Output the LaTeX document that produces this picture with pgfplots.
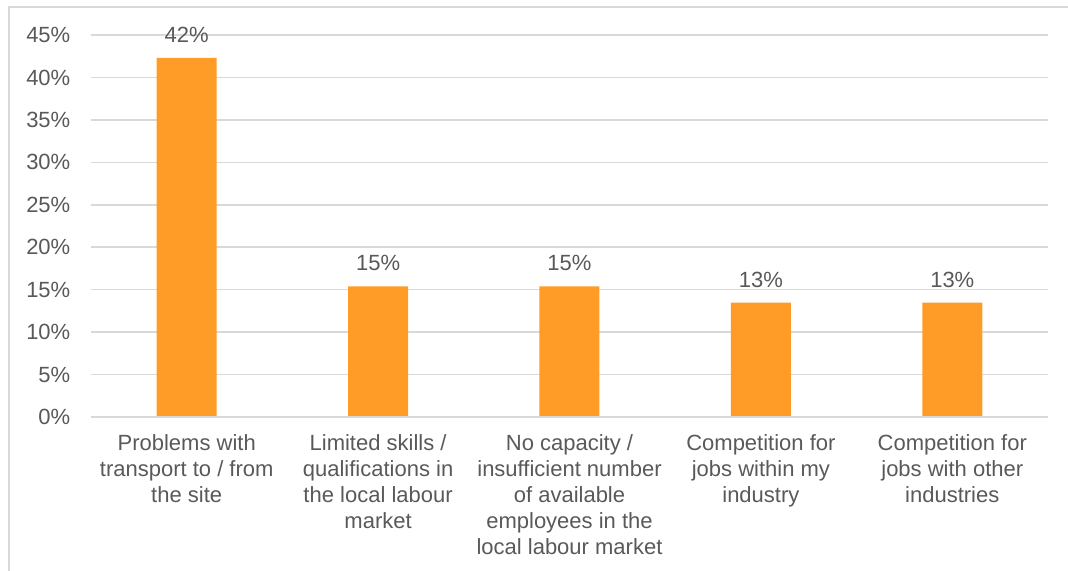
\documentclass[border=0pt]{standalone}
\usepackage{fontspec}
\setmainfont{Liberation Sans}
\usepackage{pgfplots}
\pgfplotsset{compat=1.18}
\usetikzlibrary{calc}
\definecolor{barorange}{HTML}{FF9C28}
\definecolor{txtgray}{HTML}{595959}
\definecolor{gridgray}{HTML}{D9D9D9}
\begin{document}
\begin{tikzpicture}
\begin{axis}[
    name=ax,
    at={(0,0)}, anchor=south west,
    scale only axis,
    width=717.75pt, height=286.5pt,
    ybar, bar width=45pt,
    xmin=-0.5, xmax=4.5,
    ymin=0, ymax=45,
    ytick={0,5,...,45},
    yticklabel={\pgfmathprintnumber{\tick}\%},
    xtick={0,1,2,3,4},
    xticklabels={
      {Problems with\\transport to / from\\the site},
      {Limited skills /\\qualifications in\\the local labour\\market},
      {No capacity /\\insufficient number\\of available\\employees in the\\local labour market},
      {Competition for\\jobs within my\\industry},
      {Competition for\\jobs with other\\industries}},
    xticklabel style={align=center, font=\fontsize{16.5}{19.5}\selectfont, text=txtgray, yshift=-10pt},
    yticklabel style={font=\fontsize{16.5}{19.5}\selectfont, text=txtgray, xshift=-12pt},
    /pgf/number format/assume math mode=true,
    major tick length=0pt,
    ymajorgrids, grid style={gridgray, line width=1.1pt},
    axis line style={draw=none},
    nodes near coords={\pgfmathprintnumber[fixed,precision=0]{\pgfplotspointmeta}\%},
    nodes near coords style={font=\fontsize{16.5}{19.5}\selectfont, text=txtgray, yshift=8pt},
    clip=false,
]
\addplot[fill=barorange, draw=none] coordinates {(0,42.31) (1,15.38) (2,15.38) (3,13.46) (4,13.46)};
\draw[gridgray, line width=1.1pt] (rel axis cs:0,0) -- (rel axis cs:1,0);
\end{axis}
\draw[gridgray, line width=1.1pt] ($(ax.south west)+(-61.5pt,-200pt)$) -- ($(ax.south west)+(-61.5pt,307.5pt)$) -- ($(ax.south west)+(800pt,307.5pt)$);
\pgfresetboundingbox
\path[use as bounding box] ($(ax.south west)+(-68.25pt,-115.5pt)$) rectangle ($(ax.south west)+(732.75pt,312.75pt)$);
\end{tikzpicture}
\end{document}
